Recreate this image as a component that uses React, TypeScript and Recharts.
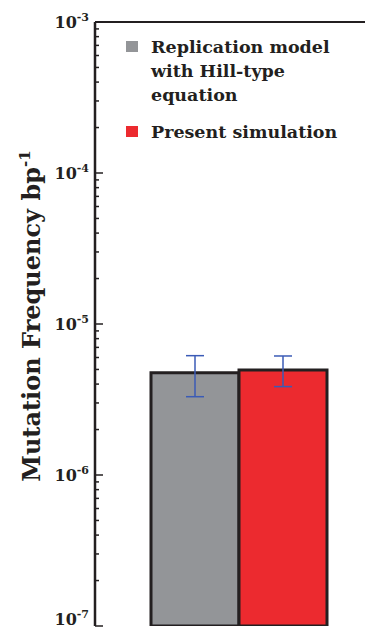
import { Bar, BarChart, ErrorBar, Legend, ReferenceLine, XAxis, YAxis } from "recharts";

// valores (frecuencia de mutación por bp)
const CATEGORIES = ["Mutation frequency"];
const SERIES_NAMES = ["Replication model with Hill-type equation", "Present simulation"];
const HILL_VALUES = [4.76e-6];
const HILL_ERRORS = [[1.46e-6, 1.41e-6]]; // [abajo, arriba]
const SIM_VALUES = [4.95e-6];
const SIM_ERRORS = [[1.1e-6, 1.19e-6]];

const DECADES = [1e-7, 1e-6, 1e-5, 1e-4, 1e-3];
const MINOR_STEPS = [2, 3, 4, 5, 6, 7, 8, 9];

const INK = "#231f20";
const FONT = "'DejaVu Serif', serif";
const COLORS = ["#939598", "#ec2a2f"];

const ALL_TICKS = [
  ...DECADES,
  ...DECADES.slice(0, -1).flatMap((d) => MINOR_STEPS.map((m) => m * d)),
].sort((a, b) => a - b);

const data = CATEGORIES.map((name, i) => ({
  name,
  hill: HILL_VALUES[i],
  hillErr: HILL_ERRORS[i],
  sim: SIM_VALUES[i],
  simErr: SIM_ERRORS[i],
}));

function LogTick(props: any) {
  const { x, y, payload } = props;
  const v = payload.value as number;
  const exp = Math.round(Math.log10(v));
  const major = Math.abs(v / Math.pow(10, exp) - 1) < 1e-6;
  return (
    <g>
      <line x1={x} x2={x + (major ? 8 : 4)} y1={y} y2={y} stroke={INK} strokeWidth={1.5} />
      {major && (
        <text
          x={x - 6}
          y={Math.min(y + 6, 625)}
          textAnchor="end"
          fill={INK}
          fontFamily={FONT}
          fontWeight={700}
          fontSize={16}
        >
          10
          <tspan dy={-7} fontSize={11}>
            {exp}
          </tspan>
        </text>
      )}
    </g>
  );
}

function AxisTitle(props: any) {
  const { viewBox } = props;
  const cx = viewBox.x + 40;
  const cy = viewBox.y + viewBox.height / 2 - 8;
  return (
    <text
      x={cx}
      y={cy}
      transform={`rotate(-90, ${cx}, ${cy})`}
      textAnchor="middle"
      fill={INK}
      fontFamily={FONT}
      fontWeight={700}
      fontSize={24}
    >
      Mutation Frequency bp
      <tspan dy={-10} fontSize={15}>
        -1
      </tspan>
    </text>
  );
}

function LegendBox({ payload }: any) {
  const items = [...(payload ?? [])].sort(
    (a: any, b: any) => SERIES_NAMES.indexOf(a.value) - SERIES_NAMES.indexOf(b.value)
  );
  return (
    <div style={{ fontFamily: FONT, fontWeight: "bold", fontSize: 17.5, color: INK }}>
      {items.map((p: any) => (
        <div key={p.value} style={{ display: "flex", lineHeight: "24px", marginBottom: 13 }}>
          <span
            style={{
              width: 12,
              height: 11,
              background: p.color,
              marginTop: 6,
              marginRight: 13,
              flexShrink: 0,
            }}
          />
          <span style={{ width: 190 }}>{p.value}</span>
        </div>
      ))}
    </div>
  );
}

export default function App() {
  return (
    <div style={{ position: "absolute", left: 0, top: 0, background: "#fff" }}>
      <BarChart
        width={365}
        height={630}
        data={data}
        margin={{ top: 22, right: 0, bottom: 4, left: 0 }}
        barGap={0}
      >
        <XAxis
          dataKey="name"
          tick={false}
          tickLine={false}
          height={0}
          padding={{ left: 17, right: 0 }}
          axisLine={{ stroke: INK, strokeWidth: 2.5 }}
        />
        <YAxis
          scale="log"
          domain={[1e-7, 1e-3]}
          ticks={ALL_TICKS}
          allowDataOverflow
          width={95}
          tickSize={0}
          tickMargin={0}
          tickLine={false}
          tick={<LogTick />}
          interval={0}
          axisLine={{ stroke: INK, strokeWidth: 2.5 }}
          label={<AxisTitle />}
        />
        <ReferenceLine y={1e-3} stroke={INK} strokeWidth={2} />
        <Legend
          layout="vertical"
          align="center"
          verticalAlign="middle"
          content={<LegendBox />}
          wrapperStyle={{ top: 35, left: 126, width: 230 }}
        />
        <Bar
          dataKey="hill"
          name={SERIES_NAMES[0]}
          fill={COLORS[0]}
          stroke={INK}
          strokeWidth={3}
          barSize={88}
          isAnimationActive={false}
        >
          <ErrorBar dataKey="hillErr" width={9} stroke="#3b5bb6" strokeWidth={1.5} direction="y" />
        </Bar>
        <Bar
          dataKey="sim"
          name={SERIES_NAMES[1]}
          fill={COLORS[1]}
          stroke={INK}
          strokeWidth={3}
          barSize={88}
          isAnimationActive={false}
        >
          <ErrorBar dataKey="simErr" width={9} stroke="#3b5bb6" strokeWidth={1.5} direction="y" />
        </Bar>
      </BarChart>
    </div>
  );
}
